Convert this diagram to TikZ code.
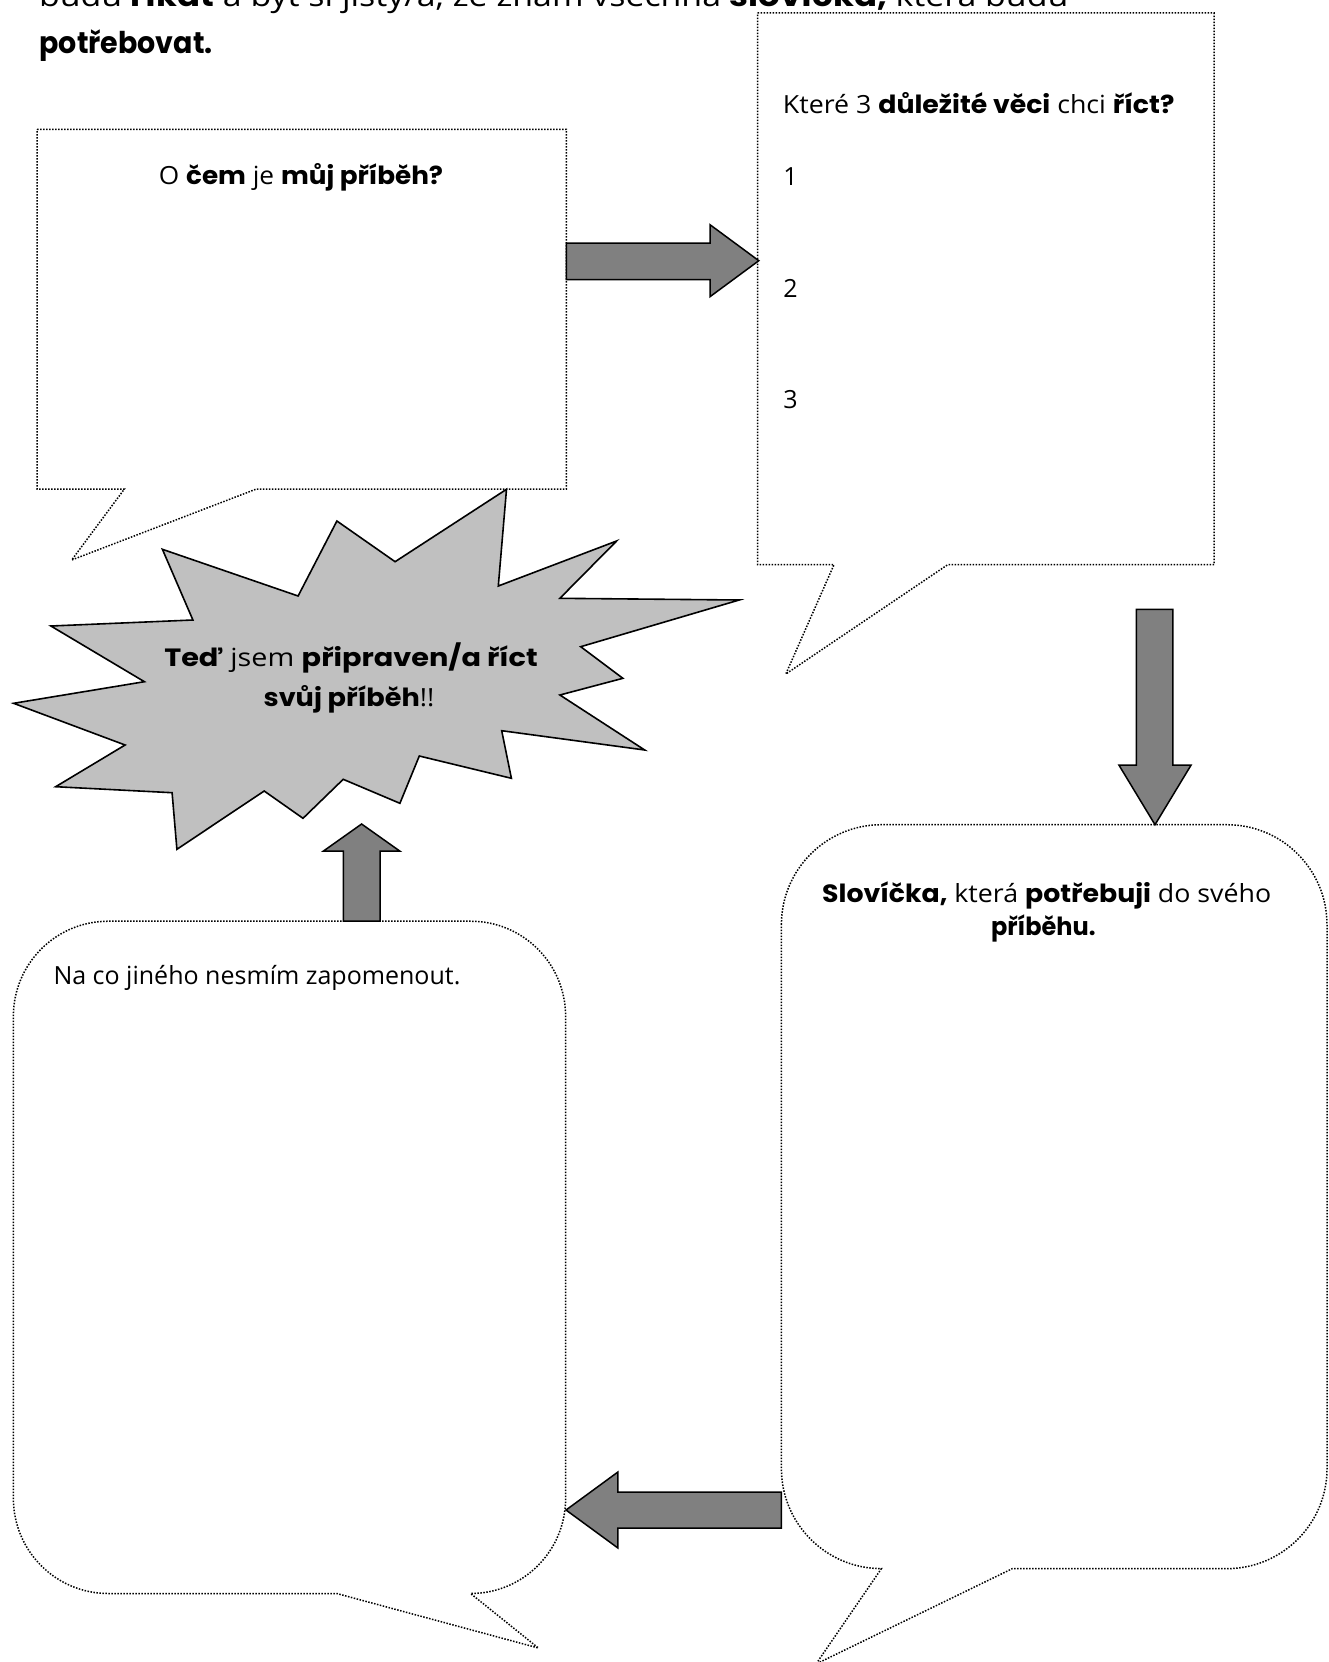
\documentclass[tikz,border=0pt]{standalone}
\usepackage{graphicx}
\usepackage{fontspec}
\setmainfont{Open Sans}
\newfontfamily\kbfont{Poppins}
\newcommand\kb[1]{{\kbfont\bfseries #1}}
\newcommand\hs[2]{\scalebox{#1}[1]{#2}}
\definecolor{arrowgray}{HTML}{808080}
\definecolor{stargray}{HTML}{C0C0C0}
\tikzset{
  dotline/.style={line width=1.5pt, dash pattern=on 1.5pt off 1.5pt},
  blockarrow/.style={draw=black, line width=1.5pt, fill=arrowgray, line join=miter},
  burst/.style={draw=black, line width=1.6pt, fill=stargray, line join=miter},
  txt/.style={inner sep=0pt, font=\fontsize{25}{30}\selectfont},
  toptxt/.style={inner sep=0pt, font=\fontsize{30}{36}\selectfont},
}
\begin{document}
\begin{tikzpicture}[x=1pt,y=-1pt]
\clip (0,0) rectangle (1329,1662);
% callout 1 (top left)
\draw[dotline] (37.1,129.3) -- (566.4,129.3) -- (566.4,489) -- (256.4,489) -- (71.7,560) -- (124.4,489) -- (37.1,489) -- cycle;
% callout 2 (top right)
\draw[dotline] (757.7,13) -- (1214,13) -- (1214,564.7) -- (947.7,564.7) -- (785.8,674) -- (834,564.7) -- (757.7,564.7) -- cycle;
% callout 3 (bottom right, rounded)
\draw[dotline] (781.4,924.7) .. controls (781.4,869.5) and (826.2,824.7) .. (881.4,824.7) -- (1227,824.7) .. controls (1282.2,824.7) and (1327,869.5) .. (1327,924.7) -- (1327,1468.6) .. controls (1327,1523.8) and (1282.2,1568.6) .. (1227,1568.6) -- (1012.4,1568.6) -- (816,1664) -- (881.4,1568.6) .. controls (826.2,1568.6) and (781.4,1523.8) .. (781.4,1468.6) -- cycle;
% callout 4 (bottom left, rounded)
\draw[dotline] (13.4,1016.2) .. controls (13.4,963.8) and (55.8,921.2) .. (108.4,921.2) -- (470.6,921.2) .. controls (523.2,921.2) and (565.6,963.8) .. (565.6,1016.2) -- (565.6,1498.5) .. controls (565.6,1550.9) and (523.2,1593.5) .. (470.6,1593.5) -- (538.4,1648) -- (336.8,1593.5) -- (108.4,1593.5) .. controls (55.8,1593.5) and (13.4,1550.9) .. (13.4,1498.5) -- cycle;
% explosion
\draw[burst] (506.5,489.3) -- (498.3,586) -- (616.6,541) -- (559.9,598.3) -- (739.2,600) -- (580.7,646.7) -- (622.9,678.3) -- (559.9,695) -- (644.7,750) -- (501.7,730.7) -- (511.4,778.3) -- (419.3,756) -- (399.9,803.3) -- (343.2,779.3) -- (303,818.3) -- (264.2,791) -- (176.9,849.3) -- (172.1,792.7) -- (55.7,786.7) -- (125.1,745) -- (13.6,703.3) -- (144.4,681.7) -- (50.9,626) -- (192.9,620) -- (162.4,549.3) -- (298.1,596) -- (336.9,521) -- (395.1,561.7) -- cycle;
% block arrows
\draw[blockarrow] (566.4,243) -- (710,243) -- (710,224.7) -- (758.8,260.7) -- (710,296.7) -- (710,279.5) -- (566.4,279.5) -- cycle;
\draw[blockarrow] (1136.3,609.4) -- (1172.8,609.4) -- (1172.8,765.2) -- (1191,765.2) -- (1155,824.7) -- (1119,765.2) -- (1136.3,765.2) -- cycle;
\draw[blockarrow] (781.4,1492) -- (617.9,1492) -- (617.9,1472) -- (566,1510) -- (617.9,1548) -- (617.9,1528) -- (781.4,1528) -- cycle;
\draw[blockarrow] (343.3,921.2) -- (343.3,851) -- (323.5,851) -- (361.6,824) -- (399.7,851) -- (380,851) -- (380,921.2) -- cycle;
% texts
\node[toptxt, anchor=base west] (top1) at (38.8,7) {\hs{1.13}{budu \kb{říkat} a být si jistý/a, že znám všechna \kb{slovíčka,} která budu}};
\node[toptxt, anchor=base west] (top2) at (39.3,53) {\hs{0.95}{\kb{potřebovat.}}};
\node[txt, anchor=base] (q1) at (301,184) {\hs{1.05}{O \kb{čem} je \kb{můj příběh?}}};
\node[txt, anchor=base west] (q2) at (782.7,113) {\hs{1.07}{Které 3 \kb{důležité věci} chci \kb{říct?}}};
\node[txt, anchor=base west] (n1) at (783.2,185) {1};
\node[txt, anchor=base west] (n2) at (783.2,297) {2};
\node[txt, anchor=base west] (n3) at (783.2,408.5) {3};
\node[txt, anchor=base] (s1) at (351,666) {\hs{1.15}{\kb{Teď} jsem \kb{připraven/a říct}}};
\node[txt, anchor=base] (s2) at (349,706.5) {\hs{1.085}{\kb{svůj příběh}!!}};
\node[txt, anchor=base] (w1) at (1046.7,902) {\hs{1.07}{\kb{Slovíčka,} která \kb{potřebuji} do svého}};
\node[txt, anchor=base] (w2) at (1043.3,935.5) {\hs{0.96}{\kb{příběhu.}}};
\node[txt, anchor=base west] (f1) at (53.3,984.3) {Na co jiného nesmím zapomenout.};
\end{tikzpicture}
\end{document}
